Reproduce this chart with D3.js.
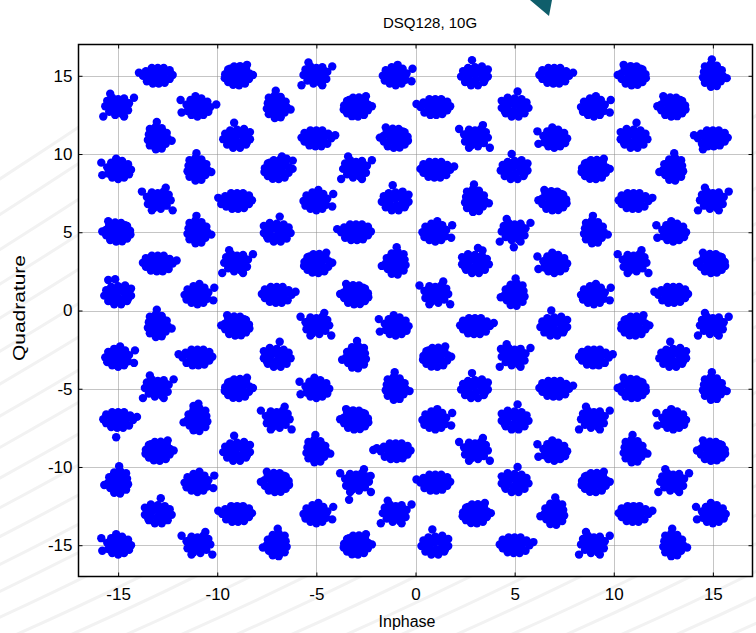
<!DOCTYPE html>
<html>
<head>
<meta charset="utf-8">
<script src="https://cdn.jsdelivr.net/npm/d3@7"></script>
<style>
body { margin: 0; background: #fff; }
svg { display: block; font-family: "Liberation Sans", Arial, sans-serif; }
</style>
</head>
<body>
<div id="chart"></div>
<script>
//symbol levels, one row per Q value from top to bottom
var qLevels = [15, 13, 11, 9, 7, 5, 3, 1, -1, -3, -5, -7, -9, -11, -13, -15];
//inphase positions, rows alternate between these two sets
var iLevelsEven = [-13, -9, -5, -1, 3, 7, 11, 15];
var iLevelsOdd = [-15, -11, -7, -3, 1, 5, 9, 13];
var tickValues = [-15, -10, -5, 0, 5, 10, 15];

//noise cloud shapes (offsets in axis units)
var cloudA = [[-0.6,0.1],[-0.45,0.4],[-0.15,0.6],[0.15,0.62],[0.45,0.45],[0.62,0.15],[0.6,-0.2],[0.4,-0.5],[0.1,-0.6],[-0.2,-0.58],[-0.45,-0.4],[-0.62,-0.15],[-0.3,0.2],[0,0.3],[0.3,0.2],[0.3,-0.15],[0,-0.3],[-0.3,-0.15],[0,0],[0.8,0.05],[0.5,0.7],[-0.35,0.45],[0.4,-0.35],[-0.15,0.05],[0.15,-0.05]];
var cloudB = [[-0.65,0],[-0.5,0.35],[-0.2,0.55],[0.1,0.7],[0.35,0.45],[0.55,0.15],[0.5,-0.25],[0.3,-0.5],[0,-0.6],[-0.3,-0.5],[-0.55,-0.3],[-0.2,0.1],[0.1,0.2],[0.2,-0.2],[-0.1,-0.25],[0.85,0.45],[0.8,-0.35],[-0.35,0.3],[0.3,0.1],[-0.4,-0.1],[0.05,0.45],[0.4,-0.05],[-0.1,-0.45],[0,0]];
var cloudC = [[-0.75,0.05],[-0.6,0.35],[-0.3,0.5],[0,0.5],[0.3,0.5],[0.6,0.3],[0.75,0],[0.55,-0.35],[0.25,-0.5],[-0.05,-0.5],[-0.35,-0.45],[-0.6,-0.2],[-0.3,0.05],[0,0.1],[0.3,0.05],[0.15,-0.2],[-0.15,-0.2],[0.15,0.3],[-0.15,0.3],[0.95,0.2],[-0.45,0.25],[0.45,0.15],[0.4,-0.25],[-0.4,-0.25]];
var cloudD = [[-0.4,0.6],[-0.1,0.75],[0.2,0.65],[0.45,0.35],[0.5,0],[0.4,-0.35],[0.2,-0.65],[-0.1,-0.7],[-0.4,-0.45],[-0.5,-0.1],[-0.45,0.25],[0,0.3],[0.1,-0.05],[-0.15,-0.35],[0.2,0.15],[0.15,-0.35],[-0.2,0.05],[0.7,-0.15],[-0.05,1.05],[-0.2,0.5],[0.25,0.45],[0.3,-0.15],[-0.3,-0.25],[0,-0.55]];
var cloudE = [[-0.55,0.25],[-0.3,0.55],[0,0.5],[0.3,0.6],[0.55,0.4],[0.65,0.05],[0.45,-0.3],[0.15,-0.5],[-0.2,-0.45],[-0.5,-0.2],[-0.1,0.1],[0.25,0.15],[0.2,-0.15],[-0.25,0.05],[0,-0.2],[0.75,-0.6],[-0.8,0.6],[0.4,0.85],[-0.3,-0.6],[-0.35,0.35],[0.45,0.2],[0.35,-0.05],[-0.35,-0.05],[0.05,0.3]];
var cloudF = [[-0.65,0.4],[-0.35,0.6],[0,0.55],[0.35,0.5],[0.6,0.3],[0.7,-0.05],[0.5,-0.4],[0.2,-0.6],[-0.15,-0.6],[-0.45,-0.4],[-0.65,-0.05],[-0.25,0.2],[0.05,0.15],[0.3,0],[-0.05,-0.25],[0.35,0.25],[-0.35,-0.15],[0.15,1.0],[0.25,-0.3],[-0.45,0.2],[0.5,0.05],[0.15,0.4],[-0.2,0.4],[0,-0.45],[-0.5,-0.25]];

//which cloud each symbol gets (upper case = mirrored), row by row
var cloudCodes = [
    "CaEbFcAd",
    "EBdaCfbA",
    "dFcAeBfC",
    "BdaEcFaD",
    "eCbFdAcE",
    "AdfCbEdB",
    "cEaDfBeA",
    "FbcAeDbC",
    "dAeBcFaE",
    "bCfDaEcF",
    "EaBdFcAd",
    "cDeAbfEB",
    "aFdCeBdA",
    "DbAeCfaE",
    "fCbEaDcB",
    "BeDaFcEd"
];

//stray samples outside the clouds
var strayI = [-15.5, -11.2, -10.05, -9.8, -6.74, -6.19, 3.38, 4.96, 4.31, -2.13, -2.26, -3.35, -15.1, 14.5];
var strayQ = [1.95, -6.1, 13.17, 6.8, 9.84, 9.58, 3.83, 4.04, -2.46, -8.92, -10.57, -12.1, -8.1, 10.3];

var svgW = 756;
var svgH = 633;
var plot = {left: 78.5, right: 752.5, top: 44.5, bottom: 576.5};

var svg = d3.select("#chart").append("svg")
    .attr("width", svgW)
    .attr("height", svgH);

//faint streaks in the page background
var bg = svg.append("g").attr("fill", "none").attr("stroke", "#f2f2f2").attr("stroke-width", 3);
d3.range(-900, 800, 55).forEach(function(s) {
    bg.append("path")
        .attr("d", `M${s},${svgH + 40} Q${s + 400},${svgH - 120} ${s + 1000},${svgH - 520}`);
});

//teal pointer at the top
svg.append("path")
    .attr("d", "M530,0 L552,0 L549,16 Z")
    .attr("fill", "#0f5e6b");

//scales
var x = d3.scaleLinear().domain([-17, 17]).range([plot.left, plot.right]);
var y = d3.scaleLinear().domain([-17, 17]).range([plot.bottom, plot.top]);

//white plot box
svg.append("rect")
    .attr("x", plot.left)
    .attr("y", plot.top)
    .attr("width", plot.right - plot.left)
    .attr("height", plot.bottom - plot.top)
    .attr("fill", "#fff");

//dotted grid
var grid = svg.append("g")
    .attr("stroke", "#8a8a8a")
    .attr("stroke-width", 1)
    .attr("stroke-dasharray", "1,1");
grid.selectAll(".gx").data(tickValues).enter().append("line")
    .attr("x1", d => Math.round(x(d)) + 0.5).attr("x2", d => Math.round(x(d)) + 0.5)
    .attr("y1", plot.top).attr("y2", plot.bottom);
grid.selectAll(".gy").data(tickValues).enter().append("line")
    .attr("y1", d => Math.round(y(d)) + 0.5).attr("y2", d => Math.round(y(d)) + 0.5)
    .attr("x1", plot.left).attr("x2", plot.right);

//build the sample points
var clouds = {a: cloudA, b: cloudB, c: cloudC, d: cloudD, e: cloudE, f: cloudF};
var samples = [];
qLevels.forEach(function(q, r) {
    var iLevels = r % 2 === 0 ? iLevelsEven : iLevelsOdd;
    iLevels.forEach(function(i, c) {
        var code = cloudCodes[r][c];
        var mirror = code === code.toUpperCase() ? -1 : 1;
        clouds[code.toLowerCase()].forEach(function(o) {
            samples.push({I: i + mirror * o[0], Q: q + o[1]});
        });
    });
});
strayI.forEach(function(v, k) {
    samples.push({I: v, Q: strayQ[k]});
});

svg.append("clipPath").attr("id", "plotclip")
    .append("rect")
    .attr("x", plot.left).attr("y", plot.top)
    .attr("width", plot.right - plot.left).attr("height", plot.bottom - plot.top);

svg.append("g")
    .attr("clip-path", "url(#plotclip)")
    .selectAll("circle")
    .data(samples)
    .enter()
    .append("circle")
    .attr("cx", d => x(d.I))
    .attr("cy", d => y(d.Q))
    .attr("r", 4.2)
    .attr("fill", "#0000ff");

//axes with inward ticks on all four sides
function styleAxis(g) {
    g.select(".domain").remove();
    g.selectAll(".tick line").attr("stroke", "#000");
    g.selectAll(".tick text")
        .attr("fill", "#000")
        .attr("font-size", 17)
        .attr("font-family", "Liberation Sans, Arial, sans-serif");
}
var fmt = d => String(d);

svg.append("g")
    .attr("transform", `translate(0,${plot.bottom})`)
    .call(d3.axisBottom(x).tickValues(tickValues).tickFormat(fmt).tickSize(-4).tickPadding(11))
    .call(styleAxis);
svg.append("g")
    .attr("transform", `translate(0,${plot.top})`)
    .call(d3.axisTop(x).tickValues(tickValues).tickFormat("").tickSize(-4))
    .call(styleAxis);
svg.append("g")
    .attr("transform", `translate(${plot.left},0)`)
    .call(d3.axisLeft(y).tickValues(tickValues).tickFormat(fmt).tickSize(-4).tickPadding(6))
    .call(styleAxis);
svg.append("g")
    .attr("transform", `translate(${plot.right},0)`)
    .call(d3.axisRight(y).tickValues(tickValues).tickFormat("").tickSize(-4))
    .call(styleAxis);

//frame
svg.append("rect")
    .attr("x", plot.left)
    .attr("y", plot.top)
    .attr("width", plot.right - plot.left)
    .attr("height", plot.bottom - plot.top)
    .attr("fill", "none")
    .attr("stroke", "#000")
    .attr("stroke-width", 1.5);

//title and axis labels
svg.append("text")
    .attr("x", 430)
    .attr("y", 28)
    .attr("text-anchor", "middle")
    .attr("font-size", 15)
    .text("DSQ128, 10G");

svg.append("text")
    .attr("x", 407)
    .attr("y", 627)
    .attr("text-anchor", "middle")
    .attr("font-size", 16)
    .text("Inphase");

svg.append("text")
    .attr("transform", "translate(25,308) rotate(-90)")
    .attr("text-anchor", "middle")
    .attr("font-size", 16)
    .attr("textLength", 106)
    .attr("lengthAdjust", "spacingAndGlyphs")
    .text("Quadrature");
</script>
</body>
</html>
